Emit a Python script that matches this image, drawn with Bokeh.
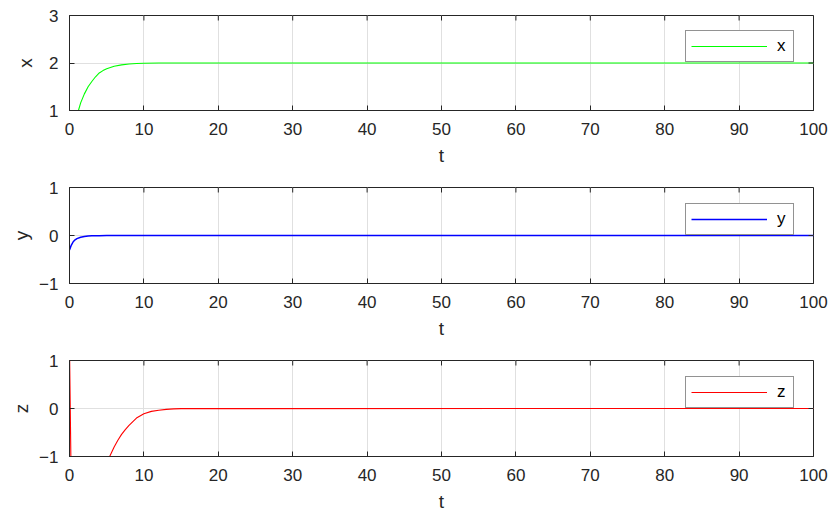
import math
from bokeh.plotting import figure
from bokeh.layouts import column
from bokeh.models import FixedTicker, Range1d, Legend, LegendItem
from bokeh.embed import file_html
from bokeh.resources import INLINE

# ---- data ----
t_x = [1.2, 1.5, 2.0, 2.5, 3.0, 3.5, 4.0, 4.5, 5.0, 6.0, 7.0, 8.0, 9.0, 10.0, 12.0, 15.0, 100.0]
x_vals = [1.0, 1.16, 1.35, 1.5, 1.61, 1.71, 1.79, 1.84, 1.88, 1.93, 1.96, 1.98, 1.99, 1.995, 2.0, 2.0, 2.0]

t_y = [0.0, 0.25, 0.5, 0.75, 1.0, 1.5, 2.0, 2.5, 3.0, 4.0, 5.0, 6.0, 100.0]
y_vals = [-0.3, -0.2, -0.13, -0.09, -0.065, -0.035, -0.02, -0.012, -0.007, -0.003, -0.001, 0.0, 0.0]

t_z = [0.0, 0.3, 2.0, 4.0, 5.4, 6.0, 6.5, 7.0, 7.5, 8.0, 9.0, 10.0, 11.0, 12.0, 13.0, 14.0, 15.0, 100.0]
z_vals = [1.3, -2.5, -3.0, -1.6, -1.0, -0.8, -0.66, -0.54, -0.44, -0.35, -0.2, -0.11, -0.06, -0.035, -0.018, -0.008, -0.003, 0.0]

x_ticks = [0, 10, 20, 30, 40, 50, 60, 70, 80, 90, 100]
panels = [
    dict(t=t_x, v=x_vals, name="x", color="#00ff00", yr=(1, 3), yt=[1, 2, 3], h=172, bb=62, ls=10, lw=1.1),
    dict(t=t_y, v=y_vals, name="y", color="#0000ff", yr=(-1, 1), yt=[-1, 0, 1], h=173, bb=62, ls=4, lw=1.5),
    dict(t=t_z, v=z_vals, name="z", color="#ff0000", yr=(-1, 1), yt=[-1, 0, 1], h=170, bb=59, ls=4, lw=1.1),
]

FONT = "Liberation Sans"
DARK = "#262626"

figs = []
for pn in panels:
    p = figure(width=837, height=pn["h"], output_backend="svg", toolbar_location=None,
               x_range=Range1d(0, 100), y_range=Range1d(*pn["yr"]),
               min_border_left=69, min_border_right=24, min_border_top=15,
               min_border_bottom=pn["bb"])
    p.outline_line_color = DARK
    p.outline_line_width = 1
    p.background_fill_color = "white"
    p.border_fill_color = "white"

    p.xgrid.grid_line_color = "#e0e0e0"
    p.ygrid.grid_line_color = "#e0e0e0"
    p.xgrid.ticker = FixedTicker(ticks=x_ticks)
    p.ygrid.ticker = FixedTicker(ticks=pn["yt"])

    r = p.line(pn["t"], pn["v"], line_color=pn["color"], line_width=pn["lw"])

    # inward box ticks on top and right edges
    ytop = pn["yr"][1]
    p.ray(x=x_ticks, y=[ytop] * len(x_ticks), length=5, length_units="screen",
          angle=-math.pi / 2, line_color=DARK, line_width=1)
    p.ray(x=[100] * len(pn["yt"]), y=pn["yt"], length=5, length_units="screen",
          angle=math.pi, line_color=DARK, line_width=1)

    for ax in [p.xaxis[0], p.yaxis[0]]:
        ax.axis_line_color = DARK
        ax.major_tick_line_color = DARK
        ax.major_tick_in = 5
        ax.major_tick_out = 0
        ax.minor_tick_line_color = None
        ax.major_label_text_font = FONT
        ax.major_label_text_font_size = "17px"
        ax.major_label_text_color = DARK
        ax.axis_label_text_font = FONT
        ax.axis_label_text_font_size = "19px"
        ax.axis_label_text_font_style = "normal"
        ax.axis_label_text_color = DARK

    p.xaxis[0].ticker = FixedTicker(ticks=x_ticks)
    p.yaxis[0].ticker = FixedTicker(ticks=pn["yt"])
    p.xaxis[0].axis_label = "t"
    p.yaxis[0].axis_label = pn["name"]
    p.xaxis[0].major_label_standoff = 12
    p.xaxis[0].axis_label_standoff = 7
    p.yaxis[0].major_label_standoff = 11
    p.yaxis[0].axis_label_standoff = pn["ls"]

    legend = Legend(items=[LegendItem(label=pn["name"], renderers=[r])],
                    location=(616, 48),
                    padding=5, margin=0, spacing=0,
                    glyph_width=76, glyph_height=20, label_standoff=10,
                    label_width=11, label_height=20,
                    label_text_font=FONT, label_text_font_size="17px",
                    label_text_color="black",
                    border_line_color=DARK, border_line_width=1,
                    background_fill_color="white", background_fill_alpha=1.0)
    p.add_layout(legend)
    figs.append(p)

layout = column(*figs, spacing=0)
open("out.html", "w").write(file_html(layout, INLINE))
